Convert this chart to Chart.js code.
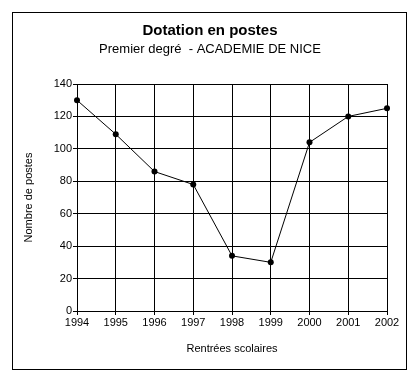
<!DOCTYPE html>
<html>
<head>
<meta charset="utf-8">
<script src="https://cdn.jsdelivr.net/npm/chart.js@4"></script>
<style>
  html, body { margin: 0; padding: 0; background: #fff; }
  #wrap { width: 420px; height: 383px; }
</style>
</head>
<body>
<div id="wrap"><canvas id="chart" width="420" height="383"></canvas></div>
<script>
'use strict';

// ── Data ──────────────────────────────────────────────────────────────────────
const years  = ['1994', '1995', '1996', '1997', '1998', '1999', '2000', '2001', '2002'];
const postes = [130, 109, 86, 78, 34, 30, 104, 120, 125];

const FONT = 'Liberation Sans, Arial, sans-serif';

// cadre autour du graphique
const framePlugin = {
  id: 'frame',
  beforeDraw(chart) {
    const ctx = chart.ctx;
    ctx.save();
    ctx.fillStyle = '#fff';
    ctx.fillRect(0, 0, chart.width, chart.height);
    ctx.strokeStyle = '#000';
    ctx.lineWidth = 1;
    ctx.strokeRect(12.5, 12.5, 394, 357);
    ctx.restore();
  }
};

new Chart(document.getElementById('chart'), {
  type: 'line',
  data: {
    labels: years,
    datasets: [{
      data: postes,
      borderColor: '#000',
      borderWidth: 1,
      backgroundColor: '#000',
      pointRadius: 3,
      pointBackgroundColor: '#000',
      pointBorderWidth: 0,
      tension: 0,
    }]
  },
  options: {
    responsive: false,
    animation: false,
    devicePixelRatio: 1,
    layout: { padding: { left: 33, right: 33, top: 12, bottom: 14 } },
    plugins: {
      legend: { display: false },
      tooltip: { enabled: false },
      title: {
        display: true,
        text: 'Dotation en postes',
        color: '#000',
        font: { family: FONT, size: 15, weight: 'bold' },
        padding: { top: 10, bottom: 2 },
      },
      subtitle: {
        display: true,
        text: 'Premier degré  - ACADEMIE DE NICE',
        color: '#000',
        font: { family: FONT, size: 13 },
        padding: { top: 0, bottom: 26.4 },
      },
    },
    scales: {
      x: {
        offset: false,
        grid: { color: '#000', lineWidth: 1, tickLength: 4, tickColor: '#000' },
        border: { color: '#000', width: 1 },
        ticks: { color: '#000', font: { family: FONT, size: 11 }, padding: 1, maxRotation: 0, autoSkip: false },
        title: {
          display: true,
          text: 'Rentrées scolaires',
          color: '#000',
          font: { family: FONT, size: 11 },
          padding: { top: 0, bottom: 13 },
        },
        afterFit(s) { s.height = 58; s.paddingLeft = 0; s.paddingRight = 0; },
      },
      y: {
        min: 0,
        max: 140,
        grid: { color: '#000', lineWidth: 1, tickLength: 4, tickColor: '#000' },
        border: { color: '#000', width: 1 },
        ticks: { stepSize: 20, color: '#000', font: { family: FONT, size: 11 }, padding: 1 },
        title: {
          display: true,
          text: 'Nombre de postes',
          color: '#000',
          font: { family: FONT, size: 11 },
          padding: { top: -11, bottom: 0 },
        },
        afterFit(s) { s.width = 44; s.paddingTop = 0; s.paddingBottom = 0; },
      }
    }
  },
  plugins: [framePlugin]
});
</script>
</body>
</html>
